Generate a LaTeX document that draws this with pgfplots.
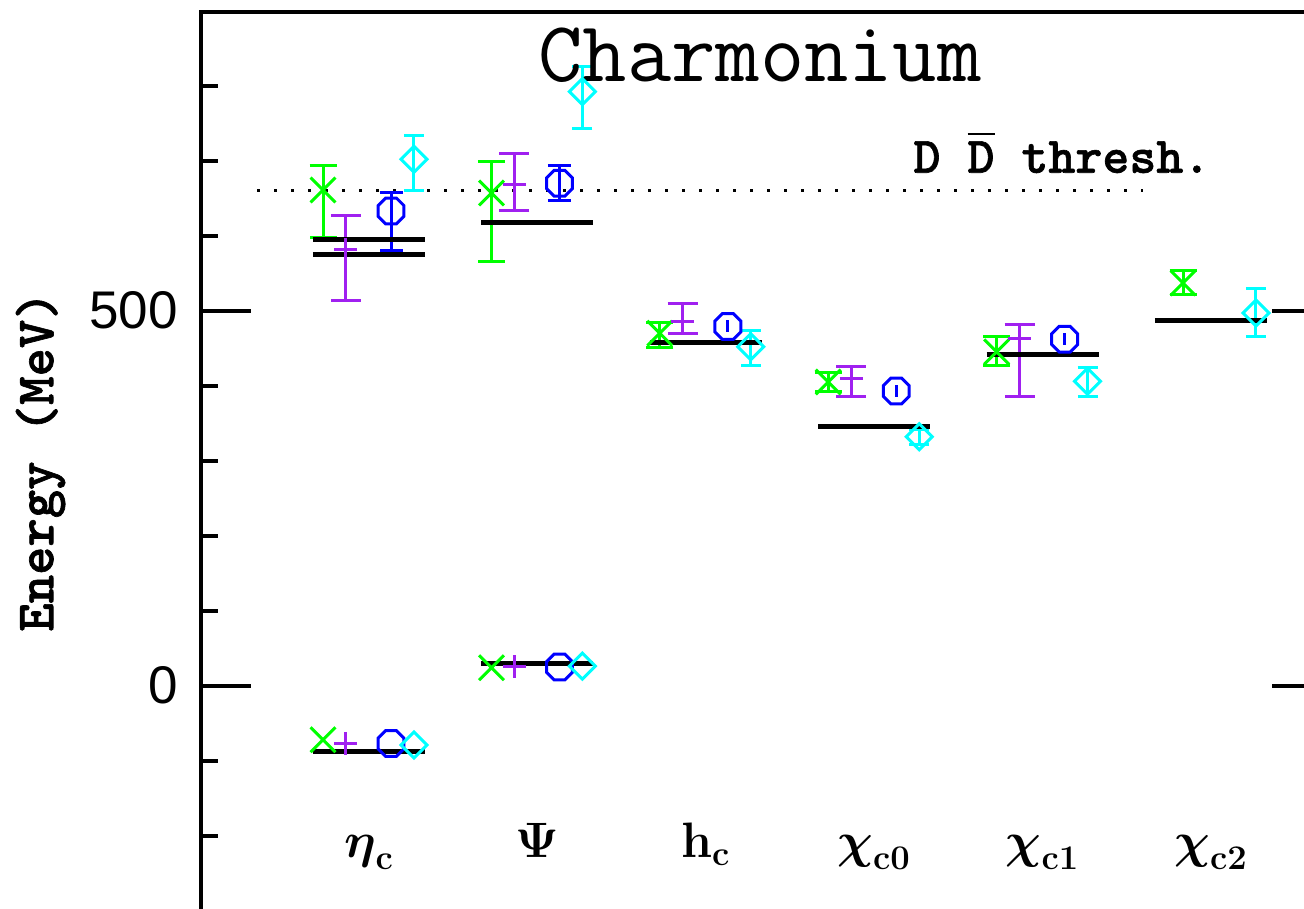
\documentclass[border=0pt]{standalone}
\usepackage[no-math]{fontspec}
\usepackage{amsmath}
\usepackage{pgfplots}
\usepackage{pgfplotstable}
\pgfplotsset{compat=1.18}
\setmainfont{Liberation Sans}
\newfontfamily\bmono[FakeBold=1.2]{lmmonolt10-bold.otf}

\definecolor{cgreen}{RGB}{0,255,0}
\definecolor{cpurple}{RGB}{160,32,240}
\definecolor{cblue}{RGB}{0,0,255}
\definecolor{ccyan}{RGB}{0,255,255}

\pgfdeclareplotmark{octagon}{%
  \pgfpathmoveto{\pgfpointpolar{22.5}{\pgfplotmarksize}}%
  \pgfpathlineto{\pgfpointpolar{67.5}{\pgfplotmarksize}}%
  \pgfpathlineto{\pgfpointpolar{112.5}{\pgfplotmarksize}}%
  \pgfpathlineto{\pgfpointpolar{157.5}{\pgfplotmarksize}}%
  \pgfpathlineto{\pgfpointpolar{202.5}{\pgfplotmarksize}}%
  \pgfpathlineto{\pgfpointpolar{247.5}{\pgfplotmarksize}}%
  \pgfpathlineto{\pgfpointpolar{292.5}{\pgfplotmarksize}}%
  \pgfpathlineto{\pgfpointpolar{337.5}{\pgfplotmarksize}}%
  \pgfpathclose\pgfusepathqstroke}
\pgfdeclareplotmark{rhombus}{%
  \pgfpathmoveto{\pgfqpoint{0pt}{\pgfplotmarksize}}%
  \pgfpathlineto{\pgfqpoint{\pgfplotmarksize}{0pt}}%
  \pgfpathlineto{\pgfqpoint{0pt}{-\pgfplotmarksize}}%
  \pgfpathlineto{\pgfqpoint{-\pgfplotmarksize}{0pt}}%
  \pgfpathclose\pgfusepathqstroke}

% ground states (no error bars)
\pgfplotstableread{
x y
0.727 -72
1.727 24
}\greenground
\pgfplotstableread{
x y ep em
0.727 661 32 63
1.727 657 42 91
2.727 470 14 19
3.727 405 13 13
4.727 445 20 18
5.834 537 16 16
}\greendata
\pgfplotstableread{
x y
0.863 -77
1.863 25
}\purpleground
\pgfplotstableread{
x y ep em
0.863 582 45 69
1.863 668 41 34
2.863 486 24 17
3.863 409 17 24
4.863 463 18 77
}\purpledata
\pgfplotstableread{
x y
1.131 -77
2.131 25
}\blueground
\pgfplotstableread{
x y ep em
1.131 633 25 53
2.131 670 24 23
}\bluedata
\pgfplotstableread{
x y ep em
3.131 479 8 8
4.131 393 8 8
5.131 462 8 8
}\bluesmall
\pgfplotstableread{
x y
1.267 -79
2.267 26
}\cyanground
\pgfplotstableread{
x y ep em
1.267 702 32 42
2.267 792 34 49
3.267 452 21 25
4.267 332 10 10
5.267 406 18 21
6.267 497 32 32
}\cyandata

\begin{document}
\begin{tikzpicture}
\begin{axis}[
  x=84.2pt, y=0.375pt,
  xmin=0, xmax=6.66, ymin=-300, ymax=898,
  axis line style={line width=2pt},
  clip=false,
  xtick={1,2,3,4,5,6},
  xticklabels={$\boldsymbol{\eta}_{\mathbf{c}}$, $\mathbf{\Psi}$, $\mathbf{h}_{\mathbf{c}}$, $\boldsymbol{\chi}_{\mathbf{c0}}$, $\boldsymbol{\chi}_{\mathbf{c1}}$, $\boldsymbol{\chi}_{\mathbf{c2}}$},
  xtick style={draw=none},
  xticklabel style={font=\fontsize{25}{29}\selectfont, anchor=base, yshift=26.4pt},
  ytick={0,500},
  minor ytick={-200,-100,100,200,300,400,600,700,800},
  major tick length=25pt, minor tick length=8.5pt,
  tick style={line width=2pt, black},
  /pgf/number format/assume math mode=true,
  yticklabel style={font=\fontsize{26.5}{30}\selectfont, xshift=-8pt},
  ylabel={Energy (MeV)},
  ylabel style={font=\bmono\fontsize{27}{32}\selectfont, at={(axis description cs:-0.1427,0.5)}, anchor=center},
  error bars/error mark=|,
]
% threshold
\addplot[black, line width=1.6pt, dash pattern=on 1.6pt off 6.9pt, forget plot] coordinates {(0.335,660) (5.596,660)};

% green
\addplot[only marks, mark=x, mark size=8.8pt, cgreen, mark options={line width=1.5pt, solid}] table[x=x,y=y] {\greenground};
\addplot[only marks, mark=x, mark size=8.8pt, cgreen, mark options={line width=1.5pt, solid},
  error bars/.cd, y dir=both, y explicit,
  error bar style={line width=1.5pt},
  error mark options={mark size=6.75pt, line width=1.5pt}]
  table[x=x,y=y,y error plus=ep,y error minus=em] {\greendata};
% purple
\addplot[only marks, mark=+, mark size=5.75pt, cpurple, mark options={line width=1.5pt, solid}] table[x=x,y=y] {\purpleground};
\addplot[only marks, mark=+, mark size=5.75pt, cpurple, mark options={line width=1.5pt, solid},
  error bars/.cd, y dir=both, y explicit,
  error bar style={line width=1.5pt},
  error mark options={mark size=7.5pt, line width=1.5pt}]
  table[x=x,y=y,y error plus=ep,y error minus=em] {\purpledata};
% blue
\addplot[only marks, mark=octagon, mark size=7pt, cblue, mark options={line width=1.5pt, solid}] table[x=x,y=y] {\blueground};
\addplot[only marks, mark=octagon, mark size=7pt, cblue, mark options={line width=1.5pt, solid},
  error bars/.cd, y dir=both, y explicit,
  error bar style={line width=1.5pt},
  error mark options={mark size=5.75pt, line width=1.5pt}]
  table[x=x,y=y,y error plus=ep,y error minus=em] {\bluedata};
\addplot[only marks, mark=octagon, mark size=7pt, cblue, mark options={line width=1.5pt, solid},
  error bars/.cd, y dir=both, y explicit, error mark=none,
  error bar style={line width=1.5pt}]
  table[x=x,y=y,y error plus=ep,y error minus=em] {\bluesmall};
% cyan
\addplot[only marks, mark=rhombus, mark size=6.5pt, ccyan, mark options={line width=1.5pt, solid}] table[x=x,y=y] {\cyanground};
\addplot[only marks, mark=rhombus, mark size=6.5pt, ccyan, mark options={line width=1.5pt, solid},
  error bars/.cd, y dir=both, y explicit,
  error bar style={line width=1.5pt},
  error mark options={mark size=5pt, line width=1.5pt}]
  table[x=x,y=y,y error plus=ep,y error minus=em] {\cyandata};

% experimental levels
\addplot[black, line width=2.5pt, unbounded coords=jump] coordinates {
(0.667,-88) (1.333,-88) (1,nan)
(0.667,595) (1.333,595) (1,nan)
(0.667,575) (1.333,575) (1,nan)
(1.667,29) (2.333,29) (2,nan)
(1.667,617) (2.333,617) (2,nan)
(2.667,458) (3.333,458) (3,nan)
(3.667,346) (4.333,346) (4,nan)
(4.667,442) (5.333,442) (5,nan)
(5.667,487) (6.333,487)
};

\node[font=\ttfamily\fontsize{43}{50}\selectfont, anchor=base] at (axis cs:3.322,805) {Charmonium};
\node[font=\bmono\fontsize{25.7}{30}\selectfont, anchor=base] at (axis cs:5.115,684) {D $\overline{\text{D}}$ thresh.};

\coordinate (bbA) at (axis cs:-1.1912,-296.4);
\coordinate (bbB) at (axis cs:6.5523,914.3);
\end{axis}
\pgfresetboundingbox
\path[use as bounding box] (bbA) rectangle (bbB);
\end{tikzpicture}
\end{document}
